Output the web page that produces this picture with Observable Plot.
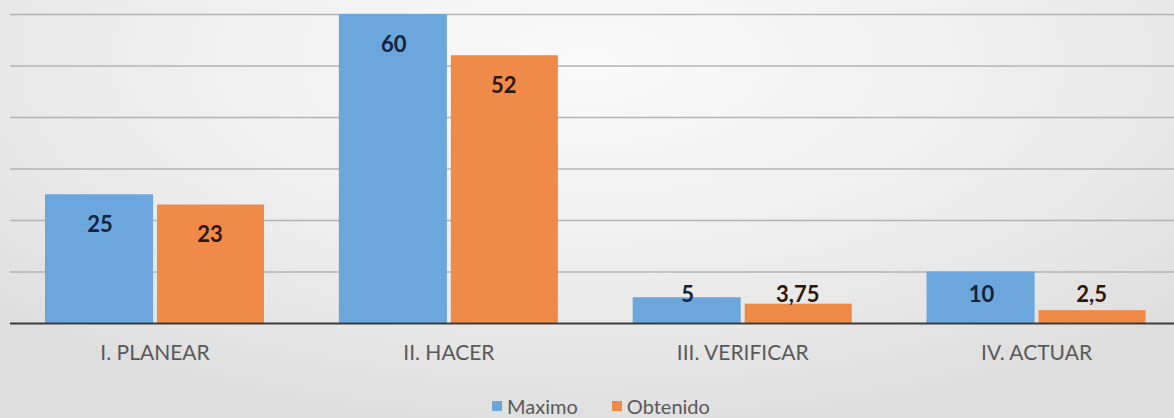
<!DOCTYPE html>
<html>
<head>
<meta charset="utf-8">
<script src="https://cdn.jsdelivr.net/npm/d3@7"></script>
<script src="https://cdn.jsdelivr.net/npm/@observablehq/plot@0.6"></script>
<style>
  html, body { margin: 0; padding: 0; }
  body {
    width: 1174px; height: 418px; overflow: hidden; position: relative;
    background: radial-gradient(ellipse 70% 90% at 50% 15%, #fafafa 0%, #efefef 50%, #dedede 100%);
    font-family: Lato, "Open Sans", sans-serif;
  }
  #chart svg { display: block; background: transparent; }
  #legend {
    position: absolute; left: 0; right: 0; top: 395px;
    display: flex; justify-content: center; gap: 34px;
    font-size: 20px; line-height: 22px; color: #5a5a5a; padding-left: 28px;
  }
  #legend span.item { display: flex; align-items: center; gap: 5px; }
  #legend span.sw { width: 10px; height: 10px; display: inline-block; }
</style>
</head>
<body>
<div id="chart"></div>
<div id="legend"></div>
<script>
const categories = ["I. PLANEAR", "II. HACER", "III. VERIFICAR", "IV. ACTUAR"];
const series = ["Maximo", "Obtenido"];
const maximo = [25, 60, 5, 10];
const obtenido = [23, 52, 3.75, 2.5];
const maximoLabels = ["25", "60", "5", "10"];
const obtenidoLabels = ["23", "52", "3,75", "2,5"];
const gridTicks = [10, 20, 30, 40, 50, 60];
const colors = ["#6ba6dd", "#f08a48"];
const labelColors = ["#14233a", "#2e1608"];

const data = [];
categories.forEach((c, i) => {
  data.push({category: c, series: series[0], value: maximo[i], label: maximoLabels[i]});
  data.push({category: c, series: series[1], value: obtenido[i], label: obtenidoLabels[i]});
});
const dM = data.filter(d => d.series === series[0]);
const dO = data.filter(d => d.series === series[1]);

const labelY = d => Math.max(d.value, 11.4);

const plot = Plot.plot({
  width: 1174,
  height: 372,
  marginTop: 14,
  marginBottom: 49,
  marginLeft: 10,
  marginRight: 0,
  style: {background: "transparent", fontFamily: "Lato, 'Open Sans', sans-serif"},
  x: {type: "band", domain: categories, range: [7.6, 1183], paddingInner: 0.2546, paddingOuter: 0.1273, round: false},
  y: {domain: [0, 60], axis: null},
  marks: [
    Plot.ruleY(gridTicks, {stroke: "#adadad", strokeWidth: 1.3, strokeOpacity: 0.9}),
    Plot.barY(dM, {x: "category", y: "value", fill: colors[0], insetRight: 111}),
    Plot.barY(dO, {x: "category", y: "value", fill: colors[1], insetLeft: 112}),
    Plot.ruleY([0], {stroke: "#3c3c3c", strokeWidth: 2}),
    Plot.text(dM, {x: "category", y: labelY, text: "label", dx: -55, dy: 30,
      fill: labelColors[0], fontSize: 22, fontWeight: "bold"}),
    Plot.text(dO, {x: "category", y: labelY, text: "label", dx: 55, dy: 30,
      fill: labelColors[1], fontSize: 22, fontWeight: "bold"}),
    Plot.axisX({tickSize: 0, tickPadding: 22, fontSize: 21, fill: "#5a5a5a", label: null})
  ]
});
document.getElementById("chart").appendChild(plot);

const legend = document.getElementById("legend");
series.forEach((s, i) => {
  const item = document.createElement("span");
  item.className = "item";
  const sw = document.createElement("span");
  sw.className = "sw";
  sw.style.background = colors[i];
  item.appendChild(sw);
  item.appendChild(document.createTextNode(s));
  legend.appendChild(item);
});
</script>
</body>
</html>
